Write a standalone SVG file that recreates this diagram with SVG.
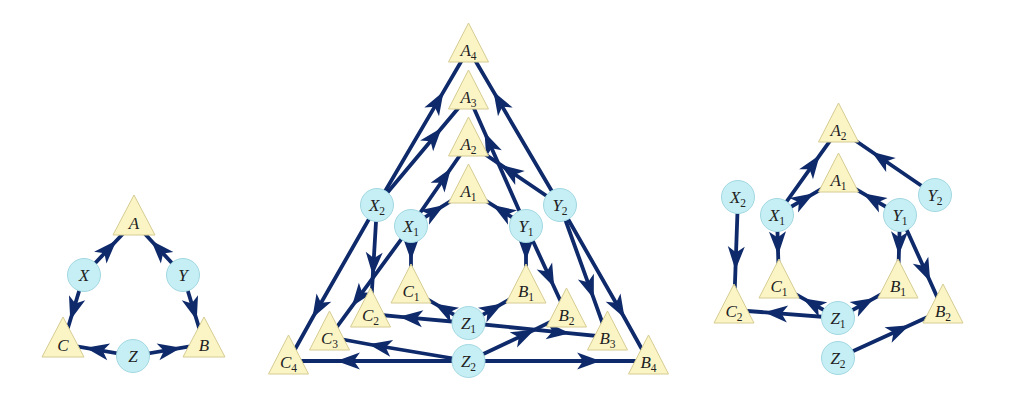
<svg xmlns="http://www.w3.org/2000/svg" width="1024" height="410" viewBox="0 0 1024 410">
<style>
.tri{fill:#fbf5c6;stroke:#d6cc92;stroke-width:1}
.cir{fill:#c6eff5;stroke:#a2d8e1;stroke-width:1}
.lbl{font-family:"Liberation Serif","DejaVu Serif",serif;font-style:italic;font-size:17px;fill:#222;text-anchor:middle}
.sub{font-style:normal;font-size:11.5px}
.e{fill:none;stroke:#0e2a6b;stroke-width:3.8;marker-mid:url(#ah)}
</style>
<defs>
<marker id="ah" viewBox="-26 -10 29 20" refX="0" refY="0" markerWidth="29" markerHeight="20" markerUnits="userSpaceOnUse" orient="auto">
<path d="M1.5,0 L-22,-8.5 L-16,0 L-22,8.5 Z" fill="#0e2a6b"/>
</marker>
</defs>
<rect width="1024" height="410" fill="#fff"/>
<g id="connectors">
<!-- left -->
<path class="e" d="M84,275 L115.4,241.7 L134,222"/>
<path class="e" d="M183,275 L152.2,241.7 L134,222"/>
<path class="e" d="M84,275 L70.7,318.8 L63,344"/>
<path class="e" d="M183,275 L196.3,318.8 L204,344"/>
<path class="e" d="M133,356 L87,348.1 L63,344"/>
<path class="e" d="M133,356 L179.7,348.1 L204,344"/>
<!-- middle -->
<path class="e" d="M377,205 L442.8,92.9 L468.5,49"/>
<path class="e" d="M560,205 L494.2,92.9 L468.5,49"/>
<path class="e" d="M377,205 L440.8,129 L468.5,96"/>
<path class="e" d="M526,226 L485.1,133.5 L468.5,96"/>
<path class="e" d="M411,226 L450.1,169.5 L468.5,143"/>
<path class="e" d="M560,205 L501.8,165.6 L468.5,143"/>
<path class="e" d="M411,226 L443.1,205.9 L468.5,190"/>
<path class="e" d="M526,226 L493.9,205.9 L468.5,190"/>
<path class="e" d="M377,205 L313.1,316.8 L288.5,361"/>
<path class="e" d="M560,205 L623.9,316.8 L648.5,361"/>
<path class="e" d="M377,205 L372.9,274.1 L370.5,314"/>
<path class="e" d="M560,205 L593.3,297.4 L607.5,337"/>
<path class="e" d="M411,226 L352.7,305.4 L329.5,337"/>
<path class="e" d="M526,226 L553.6,286 L566.5,314"/>
<path class="e" d="M411,226 L411,258.8 L411,290"/>
<path class="e" d="M526,226 L526,258.8 L526,290"/>
<path class="e" d="M468.5,323 L435.7,304.2 L411,290"/>
<path class="e" d="M468.5,323 L501.3,304.2 L526,290"/>
<path class="e" d="M468.5,323 L400.7,316.8 L370.5,314"/>
<path class="e" d="M468.5,323 L568.4,333.1 L607.5,337"/>
<path class="e" d="M468.5,361 L370,344.5 L329.5,337"/>
<path class="e" d="M468.5,361 L533.2,330.4 L566.5,314"/>
<path class="e" d="M468.5,361 L337.9,361 L288.5,361"/>
<path class="e" d="M468.5,361 L599.1,361 L648.5,361"/>
<!-- right -->
<path class="e" d="M777,215 L818.9,156.3 L838.5,129"/>
<path class="e" d="M777,215 L812.7,194.1 L838.5,179"/>
<path class="e" d="M900,215 L864.3,194.1 L838.5,179"/>
<path class="e" d="M935,195 L872.8,152.5 L838.5,129"/>
<path class="e" d="M777,215 L778.1,253.5 L779,285"/>
<path class="e" d="M900,215 L898.9,253.5 L898,285"/>
<path class="e" d="M900,215 L929.6,280.3 L943,310"/>
<path class="e" d="M738,197 L735.5,268.4 L734,310"/>
<path class="e" d="M838,318 L803.9,298.9 L779,285"/>
<path class="e" d="M838,318 L873,298.8 L898,285"/>
<path class="e" d="M838,318 L765.6,312.4 L734,310"/>
<path class="e" d="M838,358 L908.1,325.9 L943,310"/>
</g>
<!-- left graph -->
<g id="L-A"><polygon class="tri" points="134,195 155,235 113,235"/><text class="lbl" x="134" y="229">A</text></g>
<g id="L-C"><polygon class="tri" points="63,317 84,357 42,357"/><text class="lbl" x="63" y="351">C</text></g>
<g id="L-B"><polygon class="tri" points="204,317 225,357 183,357"/><text class="lbl" x="204" y="351">B</text></g>
<g id="L-X"><circle class="cir" cx="84" cy="275" r="16.5"/><text class="lbl" x="84" y="281">X</text></g>
<g id="L-Y"><circle class="cir" cx="183" cy="275" r="16.5"/><text class="lbl" x="183" y="281">Y</text></g>
<g id="L-Z"><circle class="cir" cx="133" cy="356" r="16.5"/><text class="lbl" x="133" y="362">Z</text></g>
<!-- middle graph -->
<g id="M-A4"><polygon class="tri" points="468.5,23 488.5,62 448.5,62"/><text class="lbl" x="468.5" y="56">A<tspan class="sub" dy="4">4</tspan></text></g>
<g id="M-A3"><polygon class="tri" points="468.5,70 488.5,109 448.5,109"/><text class="lbl" x="468.5" y="103">A<tspan class="sub" dy="4">3</tspan></text></g>
<g id="M-A2"><polygon class="tri" points="468.5,117 488.5,156 448.5,156"/><text class="lbl" x="468.5" y="150">A<tspan class="sub" dy="4">2</tspan></text></g>
<g id="M-A1"><polygon class="tri" points="468.5,164 488.5,203 448.5,203"/><text class="lbl" x="468.5" y="197">A<tspan class="sub" dy="4">1</tspan></text></g>
<g id="M-C1"><polygon class="tri" points="411,264 431,303 391,303"/><text class="lbl" x="411" y="297">C<tspan class="sub" dy="4">1</tspan></text></g>
<g id="M-B1"><polygon class="tri" points="526,264 546,303 506,303"/><text class="lbl" x="526" y="297">B<tspan class="sub" dy="4">1</tspan></text></g>
<g id="M-C2"><polygon class="tri" points="370.5,288 390.5,327 350.5,327"/><text class="lbl" x="370.5" y="321">C<tspan class="sub" dy="4">2</tspan></text></g>
<g id="M-B2"><polygon class="tri" points="566.5,288 586.5,327 546.5,327"/><text class="lbl" x="566.5" y="321">B<tspan class="sub" dy="4">2</tspan></text></g>
<g id="M-C3"><polygon class="tri" points="329.5,311 349.5,350 309.5,350"/><text class="lbl" x="329.5" y="344">C<tspan class="sub" dy="4">3</tspan></text></g>
<g id="M-B3"><polygon class="tri" points="607.5,311 627.5,350 587.5,350"/><text class="lbl" x="607.5" y="344">B<tspan class="sub" dy="4">3</tspan></text></g>
<g id="M-C4"><polygon class="tri" points="288.5,335 308.5,374 268.5,374"/><text class="lbl" x="288.5" y="368">C<tspan class="sub" dy="4">4</tspan></text></g>
<g id="M-B4"><polygon class="tri" points="648.5,335 668.5,374 628.5,374"/><text class="lbl" x="648.5" y="368">B<tspan class="sub" dy="4">4</tspan></text></g>
<g id="M-X2"><circle class="cir" cx="377" cy="205" r="16.5"/><text class="lbl" x="377" y="210.5">X<tspan class="sub" dy="4">2</tspan></text></g>
<g id="M-Y2"><circle class="cir" cx="560" cy="205" r="16.5"/><text class="lbl" x="560" y="210.5">Y<tspan class="sub" dy="4">2</tspan></text></g>
<g id="M-X1"><circle class="cir" cx="411" cy="226" r="16.5"/><text class="lbl" x="411" y="231.5">X<tspan class="sub" dy="4">1</tspan></text></g>
<g id="M-Y1"><circle class="cir" cx="526" cy="226" r="16.5"/><text class="lbl" x="526" y="231.5">Y<tspan class="sub" dy="4">1</tspan></text></g>
<g id="M-Z1"><circle class="cir" cx="468.5" cy="323" r="16.5"/><text class="lbl" x="468.5" y="328.5">Z<tspan class="sub" dy="4">1</tspan></text></g>
<g id="M-Z2"><circle class="cir" cx="468.5" cy="361" r="16.5"/><text class="lbl" x="468.5" y="366.5">Z<tspan class="sub" dy="4">2</tspan></text></g>
<!-- right graph -->
<g id="R-A2"><polygon class="tri" points="838.5,103 858.5,142 818.5,142"/><text class="lbl" x="838.5" y="136">A<tspan class="sub" dy="4">2</tspan></text></g>
<g id="R-A1"><polygon class="tri" points="838.5,153 858.5,192 818.5,192"/><text class="lbl" x="838.5" y="186">A<tspan class="sub" dy="4">1</tspan></text></g>
<g id="R-C1"><polygon class="tri" points="779,259 799,298 759,298"/><text class="lbl" x="779" y="292">C<tspan class="sub" dy="4">1</tspan></text></g>
<g id="R-B1"><polygon class="tri" points="898,259 918,298 878,298"/><text class="lbl" x="898" y="292">B<tspan class="sub" dy="4">1</tspan></text></g>
<g id="R-C2"><polygon class="tri" points="734,284 754,323 714,323"/><text class="lbl" x="734" y="317">C<tspan class="sub" dy="4">2</tspan></text></g>
<g id="R-B2"><polygon class="tri" points="943,284 963,323 923,323"/><text class="lbl" x="943" y="317">B<tspan class="sub" dy="4">2</tspan></text></g>
<g id="R-X2"><circle class="cir" cx="738" cy="197" r="16.5"/><text class="lbl" x="738" y="202.5">X<tspan class="sub" dy="4">2</tspan></text></g>
<g id="R-X1"><circle class="cir" cx="777" cy="215" r="16.5"/><text class="lbl" x="777" y="220.5">X<tspan class="sub" dy="4">1</tspan></text></g>
<g id="R-Y1"><circle class="cir" cx="900" cy="215" r="16.5"/><text class="lbl" x="900" y="220.5">Y<tspan class="sub" dy="4">1</tspan></text></g>
<g id="R-Y2"><circle class="cir" cx="935" cy="195" r="16.5"/><text class="lbl" x="935" y="200.5">Y<tspan class="sub" dy="4">2</tspan></text></g>
<g id="R-Z1"><circle class="cir" cx="838" cy="318" r="16.5"/><text class="lbl" x="838" y="323.5">Z<tspan class="sub" dy="4">1</tspan></text></g>
<g id="R-Z2"><circle class="cir" cx="838" cy="358" r="16.5"/><text class="lbl" x="838" y="363.5">Z<tspan class="sub" dy="4">2</tspan></text></g>
</svg>
